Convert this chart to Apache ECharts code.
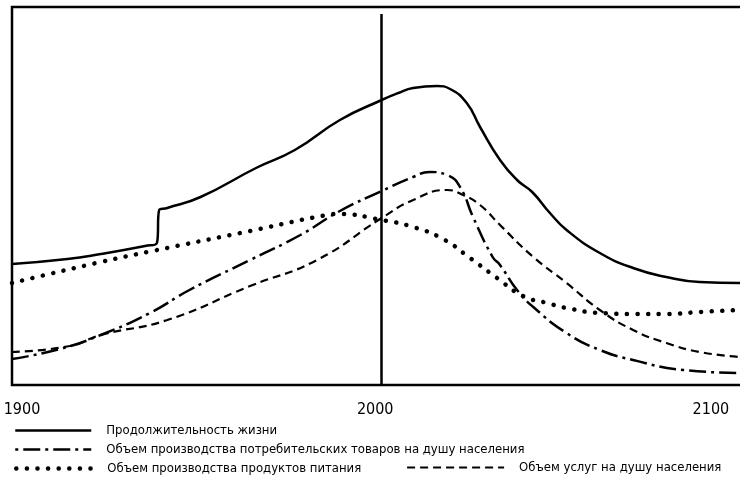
<!DOCTYPE html>
<html>
<head>
<meta charset="utf-8">
<script src="https://cdn.jsdelivr.net/npm/echarts@6/dist/echarts.min.js"></script>
<style>
  html, body { margin: 0; padding: 0; background: #fff; }
  #chart { width: 740px; height: 485px; }
</style>
</head>
<body>
<div id="chart"></div>
<script>
// values: [year, level]
var lifeExp = [
  [1900, 121], [1915, 126], [1924, 131], [1936, 139], [1939.2, 142], [1939.8, 175], [1942, 177],
  [1951, 188], [1966, 217], [1976.5, 235], [1988.7, 265], [2000, 285], [2004.5, 292], [2008.5, 297],
  [2015, 299], [2018.5, 296], [2023, 282], [2026.6, 258], [2032, 225], [2036.6, 205], [2040.7, 193],
  [2045.5, 172], [2050, 155], [2059, 132], [2068, 117], [2077, 108], [2086, 103], [2097, 102]
];
var consumerGoods = [
  [1900, 26], [1913, 36], [1924, 50], [1937.3, 72], [1948, 95], [1964.4, 125],
  [1978, 150], [1988.7, 174], [2000, 194], [2008.5, 208], [2013, 213], [2017.7, 210],
  [2021.2, 198], [2024.7, 168], [2030, 128], [2032, 120], [2036.6, 95], [2041, 78],
  [2050, 52], [2059, 35], [2068, 25], [2081.5, 15], [2097, 12]
];
var food = [
  [1900, 102], [1924, 123], [1938, 134], [1964.4, 154], [1985.2, 170], [1988.2, 171],
  [2000, 165], [2008.5, 158], [2016.6, 146], [2023.9, 127], [2031.2, 107], [2038.2, 89],
  [2044.7, 82], [2050, 77], [2059, 72], [2068, 71], [2077, 71], [2086, 73], [2097, 75]
];
var services = [
  [1900, 33], [1915.7, 39], [1924, 50], [1942, 65], [1964.4, 99], [1982.5, 125],
  [2000, 167], [2008.5, 185], [2017.7, 195], [2022, 190], [2026.6, 180], [2032, 160],
  [2041, 128], [2050, 102], [2059, 75], [2068, 55], [2077, 42], [2086, 33], [2097, 28]
];
var names = [
  'Продолжительность жизни',
  'Объем производства потребительских товаров на душу населения',
  'Объем производства продуктов питания',
  'Объем услуг на душу населения'
];
var nowYear = 2000;

var font = '"Liberation Sans Narrow", "DejaVu Sans Condensed", sans-serif';
var myChart = echarts.init(document.getElementById('chart'), null, { renderer: 'canvas' });

var styles = [
  { color: '#000', width: 2.5 },
  { color: '#000', width: 2.5, type: [17, 5, 3, 5] },
  { color: '#000', width: 4.5, type: [0.1, 10.5], cap: 'round' },
  { color: '#000', width: 2.2, type: [8, 5] }
];

function lineSeries(i, data) {
  return {
    name: names[i], type: 'line', data: data,
    symbol: 'none', smooth: 0.5, color: '#000',
    lineStyle: styles[i], animation: false
  };
}

var series = [
  lineSeries(0, lifeExp),
  lineSeries(1, consumerGoods),
  lineSeries(2, food),
  lineSeries(3, services)
];
series[0].markLine = {
  symbol: 'none', silent: true, label: { show: false },
  lineStyle: { color: '#000', width: 2.5, type: 'solid' },
  data: [[{ coord: [nowYear, 371] }, { coord: [nowYear, 0] }]]
};

function legendBlock(idx, left, top, width, textPad) {
  var ls = Object.assign({}, styles[idx]);
  ls.dashOffset = idx == 1 ? 22 : 0; // dash-dot sample starts with a dot
  return {
    data: [names[idx]], orient: 'vertical', left: left, top: top, padding: 0,
    itemWidth: width, itemHeight: 14,
    itemStyle: { opacity: 0 },
    lineStyle: ls,
    textStyle: { fontFamily: font, fontSize: 13, color: '#000', padding: [0, 0, 0, textPad] },
    selectedMode: false
  };
}

myChart.setOption({
  backgroundColor: '#fff',
  animation: false,
  grid: {
    left: 12, width: 739.4, top: 7, bottom: 100, outerBoundsMode: 'none',
    show: true, borderColor: '#000', borderWidth: 2.5
  },
  xAxis: {
    type: 'value', min: 1900, max: 2100, interval: 100,
    axisLine: { show: false }, axisTick: { show: false }, splitLine: { show: false },
    axisLabel: {
      margin: 17, fontFamily: font, fontSize: 16, color: '#000',
      formatter: function (v) {
        if (v == 1900) return '{a|1900}';
        if (v == 2000) return '{b|2000}';
        return '{c|2100}';
      },
      rich: {
        a: { fontFamily: font, fontSize: 16, padding: [0, 0, 0, 20] },
        b: { fontFamily: font, fontSize: 16, padding: [0, 13, 0, 0] },
        c: { fontFamily: font, fontSize: 16, padding: [0, 81, 0, 0] }
      }
    }
  },
  yAxis: {
    type: 'value', min: 0, max: 378,
    axisLine: { show: false }, axisTick: { show: false }, axisLabel: { show: false }, splitLine: { show: false }
  },
  legend: [
    legendBlock(0, 14, 424, 76, 10),
    legendBlock(1, 14, 443, 76, 10),
    legendBlock(2, 14, 462, 76, 10),
    legendBlock(3, 406, 461, 97, 10)
  ],
  series: series
});
</script>
</body>
</html>
